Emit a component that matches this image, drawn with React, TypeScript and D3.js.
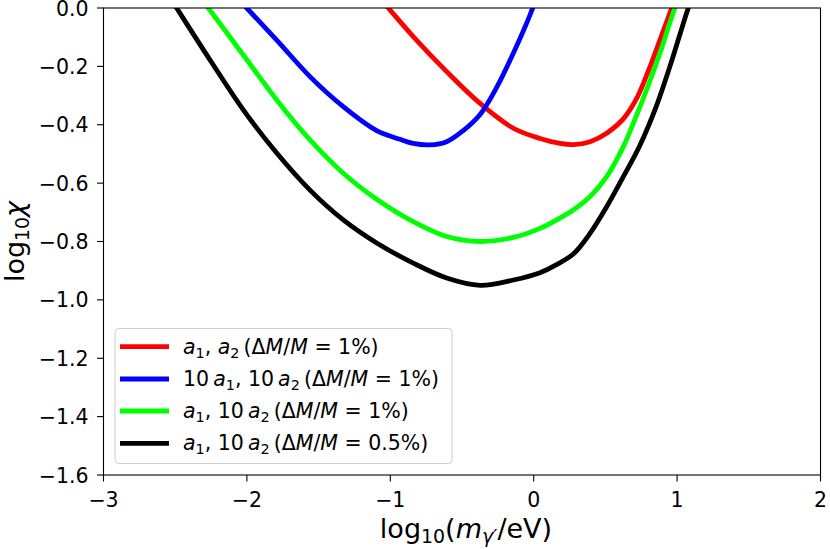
import React from "react";
import * as d3 from "d3";

// ---- data ----
const redX = [-1.103, -1.014, -0.84, -0.607, -0.374, -0.142, 0.044, 0.183, 0.276, 0.393, 0.509, 0.625, 0.718, 0.8, 0.88, 0.962, 0.996];
const redY = [0.05, 0, -0.098, -0.218, -0.327, -0.412, -0.447, -0.464, -0.468, -0.458, -0.429, -0.38, -0.31, -0.215, -0.11, 0, 0.05];

const blueX = [-2.096, -2.001, -1.792, -1.56, -1.328, -1.095, -0.932, -0.84, -0.723, -0.607, -0.491, -0.374, -0.258, -0.142, -0.049, -0.007, 0.033];
const blueY = [0.05, 0, -0.11, -0.235, -0.338, -0.42, -0.45, -0.464, -0.469, -0.458, -0.42, -0.365, -0.272, -0.155, -0.052, 0, 0.05];

const greenX = [-2.345, -2.269, -2.025, -1.792, -1.56, -1.328, -1.095, -0.84, -0.607, -0.374, -0.142, 0.044, 0.16, 0.276, 0.393, 0.509, 0.625, 0.695, 0.764, 0.88, 0.95, 0.985, 1.028];
const greenY = [0.05, 0, -0.161, -0.315, -0.452, -0.566, -0.655, -0.732, -0.783, -0.8, -0.786, -0.755, -0.726, -0.692, -0.646, -0.578, -0.475, -0.395, -0.31, -0.155, -0.05, 0, 0.05];

const blackX = [-2.555, -2.49, -2.257, -2.025, -1.792, -1.56, -1.328, -1.095, -0.84, -0.607, -0.374, -0.142, 0.044, 0.16, 0.276, 0.393, 0.509, 0.625, 0.741, 0.86, 0.95, 1.02, 1.078, 1.117];
const blackY = [0.05, 0, -0.178, -0.349, -0.497, -0.624, -0.726, -0.805, -0.874, -0.925, -0.95, -0.932, -0.907, -0.879, -0.843, -0.772, -0.681, -0.578, -0.47, -0.33, -0.2, -0.09, 0, 0.05];

const xTicks = [-3, -2, -1, 0, 1, 2];
const yTicks = [0, -0.2, -0.4, -0.6, -0.8, -1.0, -1.2, -1.4, -1.6];

type Seg = { t: string; it?: boolean; sub?: boolean };

const seriesColors = ["#ff0000", "#0000ff", "#00ff00", "#000000"];
const legendLabels: Seg[][] = [
  [{ t: "a", it: true }, { t: "1", sub: true }, { t: ", " }, { t: "a", it: true }, { t: "2", sub: true }, { t: "\u2009(\u0394" }, { t: "M", it: true }, { t: "/" }, { t: "M", it: true }, { t: " = 1%)" }],
  [{ t: "10\u2009" }, { t: "a", it: true }, { t: "1", sub: true }, { t: ", 10\u2009" }, { t: "a", it: true }, { t: "2", sub: true }, { t: "\u2009(\u0394" }, { t: "M", it: true }, { t: "/" }, { t: "M", it: true }, { t: " = 1%)" }],
  [{ t: "a", it: true }, { t: "1", sub: true }, { t: ", 10\u2009" }, { t: "a", it: true }, { t: "2", sub: true }, { t: "\u2009(\u0394" }, { t: "M", it: true }, { t: "/" }, { t: "M", it: true }, { t: " = 1%)" }],
  [{ t: "a", it: true }, { t: "1", sub: true }, { t: ", 10\u2009" }, { t: "a", it: true }, { t: "2", sub: true }, { t: "\u2009(\u0394" }, { t: "M", it: true }, { t: "/" }, { t: "M", it: true }, { t: " = 0.5%)" }],
];
const xLabel: Seg[] = [{ t: "log" }, { t: "10", sub: true }, { t: "(" }, { t: "m", it: true }, { t: "\u03b3\u2032", it: true, sub: true }, { t: "/eV)" }];
const yLabel: Seg[] = [{ t: "log" }, { t: "10", sub: true }, { t: "\u03c7", it: true }];

const W = 830;
const H = 549;
const M = { left: 103.5, right: 820.5, top: 8, bottom: 475 };
const FONT = "DejaVu Sans, sans-serif";
const FS = 20.5;
const LFS = 27;

function renderSegs(segs: Seg[], fs: number) {
  const out: React.ReactNode[] = [];
  let shifted = false;
  segs.forEach((s, i) => {
    let dy = 0;
    if (s.sub && !shifted) { dy = fs * 0.2; shifted = true; }
    else if (!s.sub && shifted) { dy = -fs * 0.2; shifted = false; }
    out.push(
      <tspan key={i} dy={dy || undefined} fontStyle={s.it ? "italic" : "normal"} fontSize={s.sub ? fs * 0.7 : fs}>
        {s.t}
      </tspan>
    );
  });
  return out;
}

const fmtY = (v: number) => (v === 0 ? "0.0" : v.toFixed(1).replace("-", "\u2212"));
const fmtX = (v: number) => String(v).replace("-", "\u2212");

export default function App() {
  const x = d3.scaleLinear().domain([-3, 2]).range([M.left, M.right]);
  const y = d3.scaleLinear().domain([-1.6, 0]).range([M.bottom, M.top]);
  const line = d3
    .line<[number, number]>()
    .x((d) => x(d[0]))
    .y((d) => y(d[1]))
    .curve(d3.curveCatmullRom.alpha(0.5));

  const series = [
    { xs: redX, ys: redY },
    { xs: blueX, ys: blueY },
    { xs: greenX, ys: greenY },
    { xs: blackX, ys: blackY },
  ];

  const legX = 115;
  const legY = 328.5;
  const legW = 337;
  const legH = 135;
  const rowY = [346.7, 379, 411, 443.3];

  return (
    <svg
      width={W}
      height={H}
      style={{ position: "absolute", left: 0, top: 0, background: "#fff" }}
      fontFamily={FONT}
    >
      <defs>
        <clipPath id="plotclip">
          <rect x={M.left} y={M.top} width={M.right - M.left} height={M.bottom - M.top} />
        </clipPath>
      </defs>
      <rect x={0} y={0} width={W} height={H} fill="#fff" />

      <g clipPath="url(#plotclip)">
        {series.map((s, i) => (
          <path
            key={i}
            d={line(s.xs.map((v, j) => [v, s.ys[j]] as [number, number])) || ""}
            fill="none"
            stroke={seriesColors[i]}
            strokeWidth={4.8}
            strokeLinejoin="round"
          />
        ))}
      </g>

      {/* spines */}
      <rect x={M.left} y={M.top} width={M.right - M.left} height={M.bottom - M.top} fill="none" stroke="#000" strokeWidth={1.1} />

      {/* x ticks */}
      {xTicks.map((t) => (
        <g key={"x" + t}>
          <line x1={x(t)} x2={x(t)} y1={M.bottom} y2={M.bottom + 6.5} stroke="#000" strokeWidth={1.1} />
          <text x={x(t)} y={507} textAnchor="middle" fontSize={FS} fill="#000">
            {fmtX(t)}
          </text>
        </g>
      ))}
      {/* y ticks */}
      {yTicks.map((t) => (
        <g key={"y" + t}>
          <line x1={M.left - 6.5} x2={M.left} y1={y(t)} y2={y(t)} stroke="#000" strokeWidth={1.1} />
          <text x={88.5} y={y(t) + 7.5} textAnchor="end" fontSize={FS} fill="#000">
            {fmtY(t)}
          </text>
        </g>
      ))}

      {/* axis labels */}
      <text x={(M.left + M.right) / 2 + 4} y={538} textAnchor="middle" fontSize={LFS} fill="#000">
        {renderSegs(xLabel, LFS)}
      </text>
      <text
        transform={`translate(24,${(M.top + M.bottom) / 2}) rotate(-90)`}
        textAnchor="middle"
        fontSize={LFS}
        fill="#000"
      >
        {renderSegs(yLabel, LFS)}
      </text>

      {/* legend */}
      <rect x={legX} y={legY} width={legW} height={legH} rx={4} ry={4} fill="#fff" fillOpacity={0.8} stroke="#cccccc" strokeWidth={1} />
      {legendLabels.map((lab, i) => (
        <g key={"l" + i}>
          <line x1={120} x2={169} y1={rowY[i]} y2={rowY[i]} stroke={seriesColors[i]} strokeWidth={4.8} />
          <text x={183} y={rowY[i] + 7} fontSize={FS} fill="#000">
            {renderSegs(lab, FS)}
          </text>
        </g>
      ))}
    </svg>
  );
}
